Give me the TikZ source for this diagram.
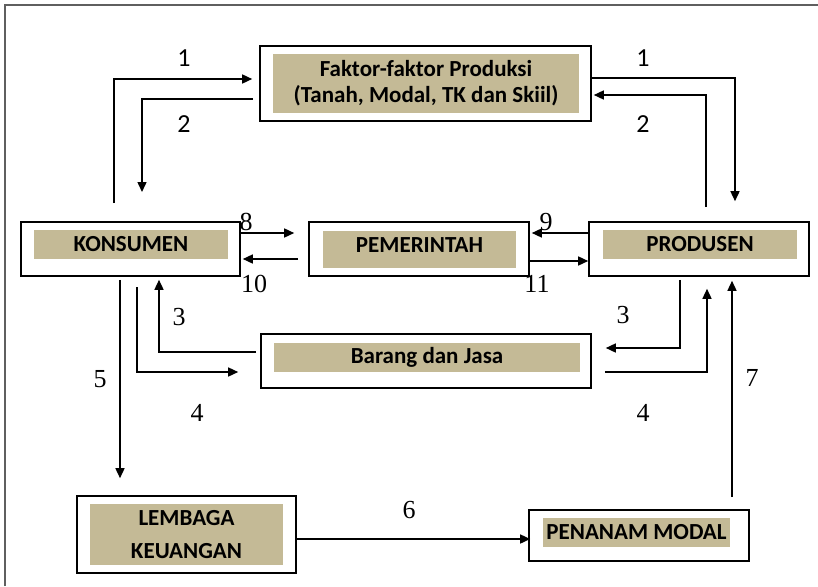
\documentclass[tikz,border=0pt]{standalone}
\usepackage{fontspec}
\setmainfont{Liberation Serif}
\newfontfamily\boxfont{Carlito}
\usetikzlibrary{arrows.meta,calc}

\begin{document}
\begin{tikzpicture}[
    x=1pt, y=-1pt,
    % Kotak luar bergaris hitam
    outerbox/.style={draw=black, line width=1.6pt, inner sep=0pt},
    % Isi kotak berwarna coklat muda
    fillbox/.style={
        fill=boxtan, inner sep=0pt, align=center,
        font=\boxfont\bfseries\fontsize{23}{26}\selectfont
    },
    % Panah aliran
    flow/.style={line width=1.5pt, -{Triangle[length=10pt,width=9pt]}},
    % Nomor aliran
    numlabel/.style={font=\fontsize{26}{26}\selectfont},
    toplabel/.style={font=\boxfont\fontsize{26}{26}\selectfont}
]
    % Warna
    \definecolor{boxtan}{RGB}{196,186,150}
    \definecolor{framegray}{RGB}{95,95,95}

    % Batas gambar
    \useasboundingbox (0,0) rectangle (818,586);
    \draw[framegray, line width=2pt] (5,586) -- (5,5) -- (818,5);

    % Kotak-kotak pelaku ekonomi
    \node[outerbox, minimum width=331, minimum height=75] (faktor) at (425.5,83.5) {};
    \node[fillbox, minimum width=306, minimum height=59] (faktor-in) at (426,83.5)
        {Faktor-faktor Produksi\\(Tanah, Modal, TK dan Skiil)};

    \node[outerbox, minimum width=219, minimum height=54] (kons) at (130.5,249) {};
    \node[fillbox, minimum width=194, minimum height=29] (kons-in) at (131,244.5) {KONSUMEN};

    \node[outerbox, minimum width=220, minimum height=54] (pem) at (419,249) {};
    \node[fillbox, minimum width=193, minimum height=37, text height=15pt, text depth=9pt]
        (pem-in) at (419.5,249.5) {PEMERINTAH};

    \node[outerbox, minimum width=220, minimum height=54] (prod) at (699,249) {};
    \node[fillbox, minimum width=194, minimum height=29] (prod-in) at (700,244.5) {PRODUSEN};

    \node[outerbox, minimum width=330, minimum height=54] (barang) at (426,361) {};
    \node[fillbox, minimum width=306, minimum height=29] (barang-in) at (427,357.5) {Barang dan Jasa};

    \node[outerbox, minimum width=219, minimum height=77] (lemb) at (186.5,534.5) {};
    \node[fillbox, minimum width=193, minimum height=61,
        font=\boxfont\bfseries\fontsize{23}{33}\selectfont]
        (lemb-in) at (186.5,534.5) {LEMBAGA\\KEUANGAN};

    \node[outerbox, minimum width=220, minimum height=51] (pen) at (639,535.5) {};
    \node[fillbox, minimum width=187, minimum height=29] (pen-in) at (636.5,532.5) {PENANAM MODAL};

    % Aliran faktor produksi (1 dan 2)
    \coordinate (k1) at (114,203);
    \coordinate (k2) at (142,192);
    \draw[flow] (k1) |- ($(faktor.west)+(-7,-4.5)$);
    \draw[flow] ($(faktor.west)+(-6,15.5)$) -| (k2);
    \draw[flow] ($(faktor.east)+(0,-5.5)$) -| ($(prod.north)+(36,-20)$);
    \draw[flow] ($(prod.north)+(7,-14)$) |- ($(faktor.east)+(2,11.5)$);

    % Aliran dengan pemerintah (8 -- 11)
    \draw[flow] ($(kons.east)+(0,-16)$) -- ($(pem.west)+(-14,-16)$);
    \draw[flow] ($(pem.west)+(-10,10)$) -- ($(kons.east)+(2,10)$);
    \draw[flow] ($(prod.west)+(0,-16)$) -- ($(pem.east)+(2,-16)$);
    \draw[flow] ($(pem.east)+(0,12)$) -- ($(prod.west)+(0,12)$);

    % Aliran barang dan jasa (3 dan 4)
    \coordinate (k4) at (137,287);
    \draw[flow] ($(barang.west)+(-4,-9)$) -| ($(kons.south)+(28.5,3)$);
    \draw[flow] (k4) |- ($(barang.west)+(-22,11)$);
    \draw[flow] ($(prod.south)+(-19,3)$) |- ($(barang.east)+(14,-13)$);
    \draw[flow] ($(barang.east)+(13,11)$) -| ($(prod.south)+(8,12)$);

    % Tabungan dan investasi (5, 6, 7)
    \draw[flow] ($(kons.south)+(-10.5,3)$) -- ($(lemb.north)+(-66.5,-17)$);
    \draw[flow] ($(lemb.east)+(0,4.5)$) -- ($(pen.west)+(2,3.5)$);
    \draw[flow] ($(pen.north)+(93,-12)$) -- ($(prod.south)+(33,4)$);

    % Nomor-nomor
    \node[toplabel] (n1a) at (184,58) {1};
    \node[toplabel] (n2a) at (184,124.5) {2};
    \node[toplabel] (n1b) at (643,58) {1};
    \node[toplabel] (n2b) at (643,124.5) {2};
    \node[numlabel] (n8) at (246,222) {8};
    \node[numlabel] (n10) at (254,284) {10};
    \node[numlabel] (n9) at (546,222) {9};
    \node[numlabel] (n11) at (537,284) {11};
    \node[numlabel] (n3a) at (179,317) {3};
    \node[numlabel] (n3b) at (623,315) {3};
    \node[numlabel] (n4a) at (197,413) {4};
    \node[numlabel] (n4b) at (643,413) {4};
    \node[numlabel] (n5) at (100,379) {5};
    \node[numlabel] (n7) at (752,378) {7};
    \node[numlabel] (n6) at (409,510) {6};

\end{tikzpicture}
\end{document}
